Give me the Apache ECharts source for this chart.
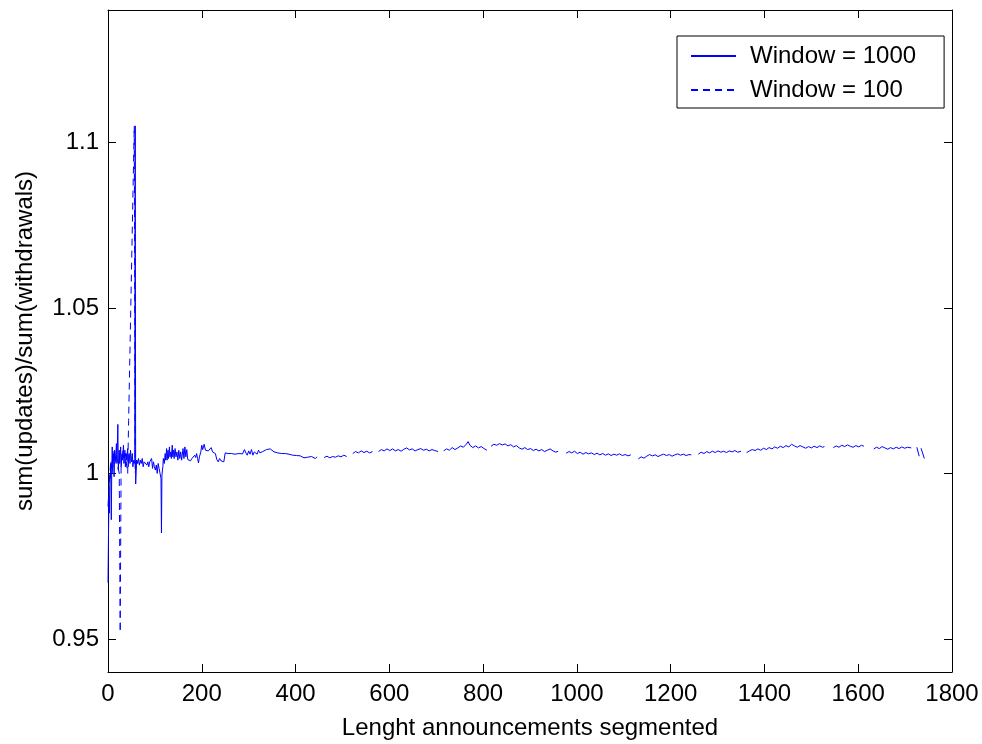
<!DOCTYPE html>
<html>
<head>
<meta charset="utf-8">
<script src="https://cdn.jsdelivr.net/npm/echarts@6/dist/echarts.min.js"></script>
<style>
html,body{margin:0;padding:0;background:#fff;}
#chart{width:982px;height:744px;}
</style>
</head>
<body>
<div id="chart"></div>
<script>
// ---- Data ----
const xTicks = [0, 200, 400, 600, 800, 1000, 1200, 1400, 1600, 1800];
const yTicks = [0.95, 1, 1.05, 1.1];
const seriesNames = ['Window = 1000', 'Window = 100'];

// Window = 1000 (solid): x = length, y = ratio (null = gap)
const lenW1000 = [
0,1,2,3,4,5,6,7,8,9,10,12,13,14,16,18,19,21,22,24,25,27,28,30,31,33,34,36,37,39,40,42,43,45,47,48,50,52,53,55,57,58,59,61,63,65,67,69,71,73,75,77,79,81,83,85,87,89,91,93,95,97,99,101,103,105,107,109,111,113,114,115,117,118,120,122,123,125,126,128,129,131,132,134,135,137,138,140,141,143,145,147,149,151,153,155,157,
160,162,164,166,168,170,173,176,179,182,185,187,189,191,193,195,198,200,202,205,208,211,214,217,220,223,226,229,232,235,238,241,244,247,250,253,256,259,263,267,271,275,279,283,287,291,294,297,300,303,306,309,312,315,318,321,324,327,330,334,338,342,346,350,354,358,362,366,370,374,378,382,386,390,394,398,402,406,410,414,418,422,426,430,434,438,442,446,453,
461,467,473,479,485,491,497,503,509,515,
522,528,534,540,546,552,558,564,571,
577,583,589,595,601,607,613,619,625,631,637,643,649,655,661,667,673,679,685,691,697,704,710,
716,722,728,734,740,746,752,758,764,768,772,778,784,790,796,802,808,813,
817,823,829,835,841,847,853,859,865,871,877,883,889,895,901,907,913,919,925,931,937,943,949,955,960,968,
977,983,989,995,1001,1007,1013,1019,1025,1031,1037,1043,1049,1055,1061,1067,1073,1079,1085,1091,1097,1103,1109,1115,1123,
1131,1137,1143,1149,1155,1161,1167,1173,1179,1185,1191,1197,1203,1209,1215,1221,1227,1233,1239,1244,1251,
1259,1265,1271,1277,1283,1289,1295,1301,1307,1313,1319,1325,1331,1337,1343,1350,1356,
1362,1368,1374,1380,1386,1392,1398,1404,1410,1416,1422,1428,1434,1440,1446,1452,1458,1464,1470,1476,1482,1488,1494,1500,1506,1512,1518,1524,1528,1537,
1547,1553,1559,1565,1571,1577,1583,1589,1595,1601,1607,1612,1622,
1633,1639,1645,1651,1657,1663,1669,1675,1681,1687,1693,1699,1705,1713,1719,
1725,1730,1731,1734,1741
];
const ratioW1000 = [
0.967,0.981,0.993,0.988,0.9997,0.9985,1.003,0.986,1.001,1.008,1.002,1.006,0.999,1.007,1.004,1.009,1.003,1.0148,1.001,1.007,1.003,1.008,1.002,1.006,1.004,1.0085,1.003,1.007,1.002,1.006,1.004,1.0075,1.002,1.006,1.003,1.007,1.0035,1.006,1.002,1.004,1.003,1.105,0.9968,1.004,1.003,1.0045,1.0025,1.004,1.003,1.0045,1.002,1.0035,1.003,1.004,1.0025,1.0035,1.002,1.0035,1.003,1.0045,1.0015,1.0035,1.002,1.001,1.0025,1.0,1.003,1.0015,1.0,0.9985,0.982,0.9995,1.002,1.0045,1.003,1.006,1.004,1.0075,1.004,1.007,1.0045,1.008,1.005,1.0065,1.0045,1.0085,1.005,1.007,1.0045,1.0075,1.005,1.0065,1.004,1.007,1.0045,1.0065,1.004,
1.0075,1.0045,1.008,1.005,1.0072,1.0042,1.0048,1.0038,1.0045,1.004,1.0055,1.0048,1.006,1.0045,1.0032,1.005,1.0065,1.0085,1.0072,1.0088,1.007,1.0075,1.0068,1.0072,1.0078,1.0065,1.0068,1.006,1.0042,1.0035,1.0045,1.0038,1.0042,1.0035,1.0062,1.0068,1.006,1.0066,1.006,1.0063,1.0058,1.0062,1.006,1.0064,1.0059,1.0072,1.0062,1.0055,1.0068,1.0058,1.0072,1.0055,1.0065,1.0062,1.0058,1.007,1.0062,1.0058,1.0066,1.0068,1.0072,1.0066,1.0074,1.0068,1.0065,1.007,1.0062,1.0066,1.006,1.0058,1.006,1.0055,1.0058,1.0052,1.0055,1.005,1.0054,1.0049,1.0053,1.005,1.0047,1.0052,1.0049,1.0046,1.0051,1.0048,1.0045,1.005,null,
1.0048,1.0052,1.0047,1.0051,1.0049,1.0053,1.005,1.0055,1.0051,null,
1.006,1.0066,1.0062,1.0068,1.0063,1.0067,1.0062,1.0066,null,
1.0066,1.0072,1.0068,1.0074,1.0069,1.0074,1.0068,1.0072,1.0067,1.0073,1.0077,1.0071,1.0074,1.0068,1.0072,1.0075,1.007,1.0073,1.0068,1.0072,1.0069,1.0066,null,
1.0068,1.0074,1.007,1.0078,1.0072,1.0077,1.0083,1.0079,1.0088,1.0096,1.0085,1.0078,1.0083,1.0077,1.0081,1.0075,1.007,null,
1.0082,1.0088,1.0085,1.009,1.0086,1.0089,1.0083,1.0087,1.008,1.0084,1.0077,1.0073,1.0078,1.0072,1.0075,1.0069,1.0073,1.0068,1.0072,1.0066,1.007,1.0074,1.0068,1.0064,1.0067,null,
1.0061,1.0066,1.0062,1.0067,1.006,1.0064,1.0058,1.0063,1.0059,1.0062,1.0057,1.0061,1.0056,1.006,1.0055,1.0059,1.0054,1.0058,1.0055,1.0059,1.0054,1.0057,1.0053,1.0056,null,
1.0044,1.005,1.0046,1.0052,1.0057,1.0053,1.0056,1.0051,1.0055,1.0058,1.0054,1.0057,1.0052,1.0056,1.0059,1.0055,1.0058,1.0054,1.0057,1.0056,null,
1.0058,1.0064,1.006,1.0066,1.0062,1.0067,1.0063,1.0068,1.0064,1.0067,1.0063,1.0068,1.0065,1.0069,1.0064,1.0067,null,
1.0063,1.0068,1.0072,1.0069,1.0074,1.007,1.0076,1.0072,1.0078,1.0074,1.008,1.0076,1.0082,1.0078,1.0084,1.008,1.0088,1.0083,1.0079,1.0084,1.008,1.0076,1.0081,1.0077,1.0082,1.0078,1.0083,1.0079,1.0081,null,
1.0078,1.0083,1.0079,1.0085,1.0081,1.0086,1.0082,1.0079,1.0084,1.008,1.0085,1.0082,null,
1.0074,1.0079,1.0075,1.0081,1.0077,1.0073,1.0078,1.0074,1.0079,1.0075,1.008,1.0076,1.0079,1.0077,null,
1.0079,1.0052,null,1.0076,1.0045
];

// Window = 100 (dashed)
const lenW100 = [0,3,6,9,12,15,18,21,24,26,28,31,34,37,40,42,44,56,58,61,64];
const ratioW100 = [0.99,0.998,1.004,1.0,1.007,1.003,1.006,1.002,1.0,0.952,1.003,1.007,1.004,1.006,1.002,1.0,1.016,1.105,1.0,1.004,1.003];

// ---- Chart ----
const toPairs = (xs, ys) => xs.map((x, i) => [x, ys[i] === null ? '-' : ys[i]]);
const FONT = 'Liberation Sans, Arial, Helvetica, sans-serif';
const FS = 24;
const blue = '#0000ff';

const chart = echarts.init(document.getElementById('chart'), null, {renderer: 'canvas'});
const axisCommon = {
  axisLine: {show: true, onZero: false, lineStyle: {color: '#000', width: 1}},
  axisTick: {show: true, inside: true, length: 8, lineStyle: {color: '#000', width: 1}},
  splitLine: {show: false}
};
const plain = v => String(v);
chart.setOption({
  animation: false,
  backgroundColor: '#fff',
  textStyle: {fontFamily: FONT},
  grid: {left: 108, right: 30, top: 10, bottom: 72, containLabel: false, outerBoundsMode: 'none'},
  legend: {
    orient: 'vertical',
    left: 677, top: 36,
    padding: [8, 28, 6, 13],
    itemGap: 10,
    itemWidth: 45, itemHeight: 14,
    borderColor: '#000', borderWidth: 1,
    backgroundColor: '#fff',
    itemStyle: {opacity: 0},
    textStyle: {fontFamily: FONT, fontSize: FS, color: '#000', padding: [0, 0, 0, 9]},
    data: seriesNames
  },
  xAxis: [
    Object.assign({}, axisCommon, {
      type: 'value', position: 'bottom', min: 0, max: 1800, interval: 200,
      axisLabel: {fontFamily: FONT, fontSize: FS, color: '#000', margin: 10,
        formatter: plain, customValues: xTicks},
      name: 'Lenght announcements segmented', nameLocation: 'middle', nameGap: 44,
      nameTextStyle: {fontFamily: FONT, fontSize: FS, color: '#000'}
    }),
    Object.assign({}, axisCommon, {
      type: 'value', position: 'top', min: 0, max: 1800, interval: 200,
      axisLabel: {show: false}
    })
  ],
  yAxis: [
    Object.assign({}, axisCommon, {
      type: 'value', position: 'left', min: 0.94, max: 1.14,
      axisTick: Object.assign({}, axisCommon.axisTick, {customValues: yTicks}),
      axisLabel: {fontFamily: FONT, fontSize: FS, color: '#000', margin: 9,
        formatter: plain, customValues: yTicks},
      name: 'sum(updates)/sum(withdrawals)', nameLocation: 'middle', nameGap: 71,
      nameTextStyle: {fontFamily: FONT, fontSize: FS, color: '#000'}
    }),
    Object.assign({}, axisCommon, {
      type: 'value', position: 'right', min: 0.94, max: 1.14,
      axisTick: Object.assign({}, axisCommon.axisTick, {customValues: yTicks}),
      axisLabel: {show: false, customValues: yTicks}
    })
  ],
  series: [
    {
      name: seriesNames[0], type: 'line', xAxisIndex: 0, yAxisIndex: 0,
      data: toPairs(lenW1000, ratioW1000),
      symbol: 'none', connectNulls: false,
      lineStyle: {color: blue, width: 1, type: 'solid'},
      itemStyle: {color: blue}, z: 3
    },
    {
      name: seriesNames[1], type: 'line', xAxisIndex: 0, yAxisIndex: 0,
      data: toPairs(lenW100, ratioW100),
      symbol: 'none',
      lineStyle: {color: blue, width: 1, type: [7, 5]},
      itemStyle: {color: blue}, z: 2
    }
  ]
});
</script>
</body>
</html>
